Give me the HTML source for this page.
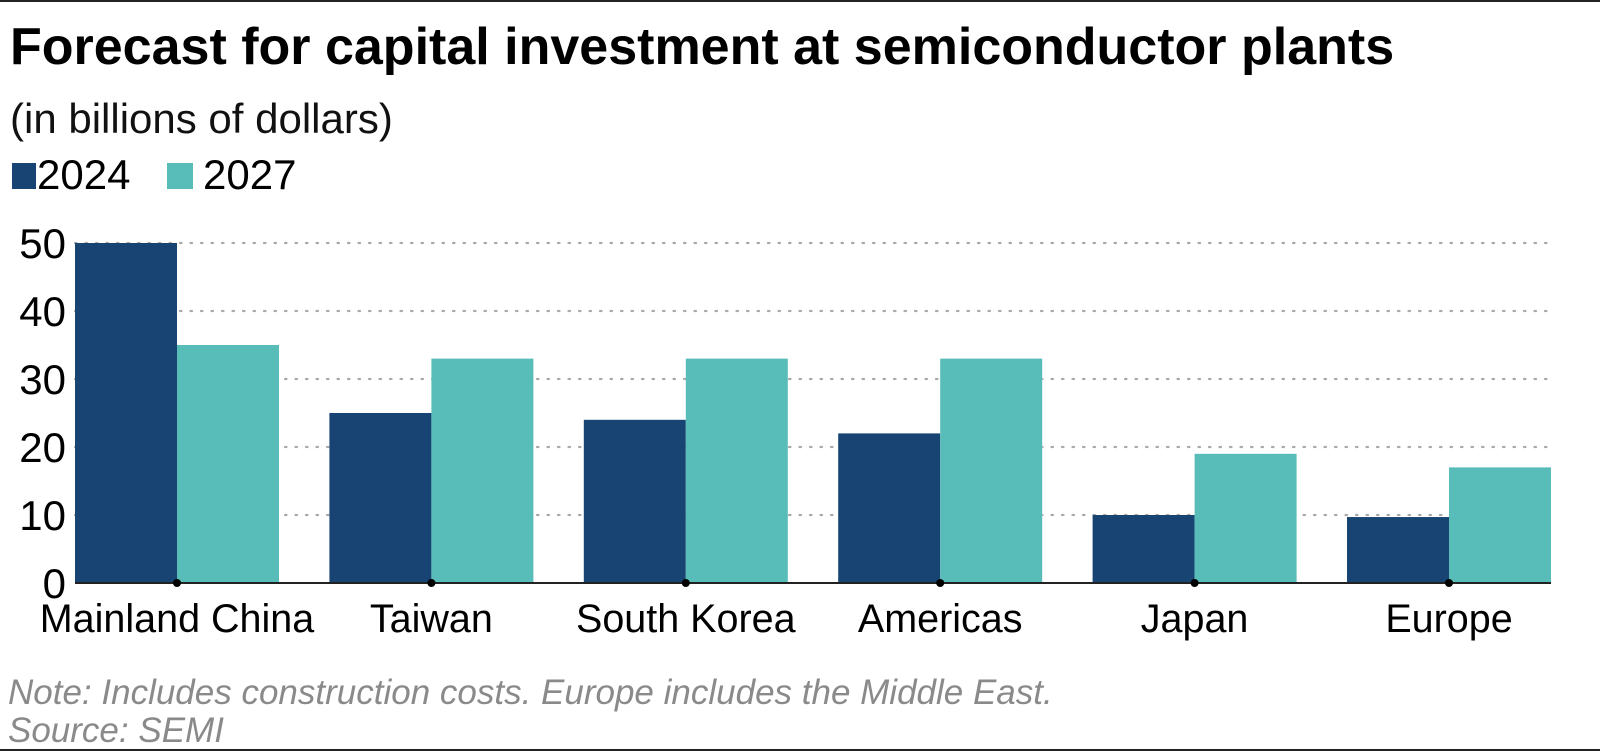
<!DOCTYPE html>
<html><head><meta charset="utf-8"><style>
body{margin:0;width:1600px;height:752px;background:#fff;overflow:hidden;font-family:"Liberation Sans",Arial,sans-serif}
svg{position:absolute;left:0;top:0}
</style></head><body>
<svg width="1600" height="752">
<line x1="0" y1="1" x2="1600" y2="1" stroke="#222" stroke-width="2"/>
<line x1="0" y1="750" x2="1600" y2="750" stroke="#222" stroke-width="2"/>
<text x="10" y="64" font-size="52" font-weight="bold" fill="#000">Forecast for capital investment at semiconductor plants</text>
<text x="10" y="133" font-size="42" fill="#111">(in billions of dollars)</text>
<g>
<rect x="12" y="163" width="24" height="26" fill="#174473"/>
<text x="37" y="189" font-size="42">2024</text>
<rect x="167" y="163" width="26" height="26" fill="#58bcb8"/>
<text x="203" y="189" font-size="42">2027</text>
</g>
<g id="plot"></g>
<text x="8" y="704" font-size="35" font-style="italic" fill="#8a8a8a">Note: Includes construction costs. Europe includes the Middle East.</text>
<text x="8" y="742" font-size="35" font-style="italic" fill="#8a8a8a">Source: SEMI</text>
</svg>
<script>
const categories=["Mainland China","Taiwan","South Korea","Americas","Japan","Europe"];
const values2024=[50,25,24,22,10,9.7];
const values2027=[35,33,33,33,19,17];
const yTicks=[0,10,20,30,40,50];
const NS="http://www.w3.org/2000/svg";
const g=document.getElementById('plot');
const y0=583,y50=243,xL=75,xR=1551,c0=177,step=254.4,bw=102;
const y=v=>y0-(v/50)*(y0-y50);
const cx=i=>c0+i*step;
function mk(t,a){const e=document.createElementNS(NS,t);for(const k in a)e.setAttribute(k,a[k]);g.appendChild(e);return e;}
yTicks.forEach(t=>{
  if(t>0){const l=mk('line',{x1:xL,x2:xR,y1:y(t),y2:y(t),stroke:'#aaa','stroke-width':2.2,'stroke-dasharray':'1.5 9','stroke-linecap':'round'});
  
  }
  const tx=mk('text',{x:66,y:y(t)+15,'font-size':42,'text-anchor':'end',fill:'#000'});tx.textContent=t;
  
  
});
categories.forEach((c,i)=>{
  const r1=mk('rect',{x:cx(i)-bw,y:y(values2024[i]),width:bw,height:y0-y(values2024[i]),fill:'#174473'});
  
  
  const r2=mk('rect',{x:cx(i),y:y(values2027[i]),width:bw,height:y0-y(values2027[i]),fill:'#58bcb8'});
  
  
});
const ax=mk('line',{x1:xL,x2:xR,y1:y0,y2:y0,stroke:'#222','stroke-width':2});


categories.forEach((c,i)=>{
  const d=mk('circle',{cx:cx(i),cy:y0,r:4,fill:'#000'});
  
  
  const t=mk('text',{x:cx(i),y:632,'font-size':39.5,'text-anchor':'middle',fill:'#000'});t.textContent=c;
  
  
});
</script>
</body></html>
